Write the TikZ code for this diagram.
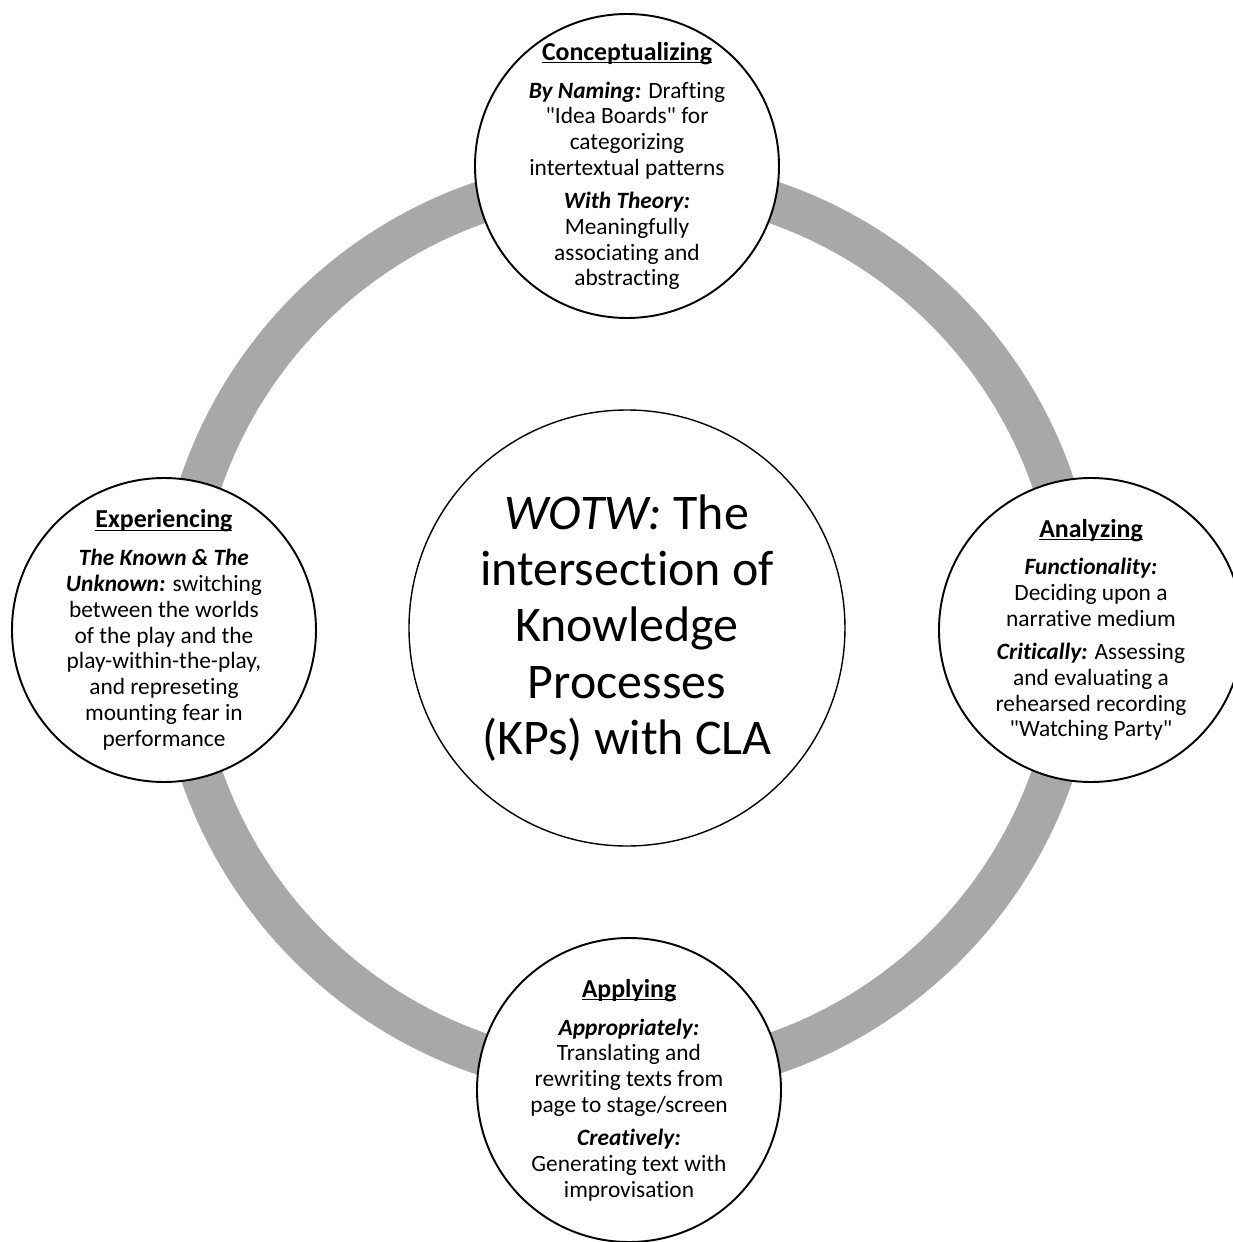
\documentclass[tikz,border=0pt]{standalone}
\usepackage{fontspec}
\setmainfont{Carlito}[Ligatures={TeXOff,NoCommon}]
\usetikzlibrary{positioning}

\definecolor{ringgray}{HTML}{A8A8A8}
% heading of a process circle: bold, underlined through the descenders
\newcommand{\kphead}[1]{\underline{\raisebox{0pt}[\height][0pt]{\fontsize{14.7}{14.7}\selectfont\bfseries #1}}}
\newcommand{\kpkey}[1]{\textbf{\textit{#1}}}

\begin{document}
\begin{tikzpicture}[
	% Ring style
	ring/.style={draw=ringgray,line width=0.84cm},
	% Circles style
	core/.style={circle,draw,line width=0.8pt,fill=white,minimum size=8.72cm,inner sep=0pt},
	process/.style={circle,draw,line width=1.1pt,fill=white,minimum size=6.08cm,inner sep=0pt},
	% Texts style
	coretext/.style={align=center,font=\fontsize{28.4}{32}\selectfont},
	proctext/.style={align=center,font=\fontsize{13.3}{14.7}\selectfont}
	]
	\clip (-12.54,-12.28) rectangle (12.12,12.56);
	%% Draw ring and circles
	\node (hub) [core] at (0,0) {};
	\draw [ring] (hub.center) circle (9cm);
	\node (concept) [process] at (0,9.24) {};
	\node (analyze) [process] at (9.28,-0.04) {};
	\node (apply) [process] at (0.04,-9.24) {};
	\node (experience) [process] at (-9.26,-0.04) {};
	%% Texts
	\node (hubtext) [coretext] at (hub) {\textit{WOTW:} The\\intersection of\\Knowledge\\Processes\\(KPs) with CLA};
	\node (concepttext) [proctext] at (concept) {\kphead{Conceptualizing}\\[6.8pt]
		\kpkey{By Naming:} Drafting\\"Idea Boards" for\\categorizing\\intertextual patterns\\[4pt]
		\kpkey{With Theory:}\\Meaningfully\\associating and\\abstracting};
	\node (analyzetext) [proctext] at (analyze) {\kphead{Analyzing}\\[6.8pt]
		\kpkey{Functionality:}\\Deciding upon a\\narrative medium\\[4pt]
		\kpkey{Critically:} Assessing\\and evaluating a\\rehearsed recording\\"Watching Party"};
	\node (applytext) [proctext] at (apply) {\kphead{Applying}\\[6.8pt]
		\kpkey{Appropriately:}\\Translating and\\rewriting texts from\\page to stage/screen\\[4pt]
		\kpkey{Creatively:}\\Generating text with\\improvisation};
	\node (experiencetext) [proctext] at (experience) {\kphead{Experiencing}\\[6.8pt]
		\kpkey{The Known \& The}\\\kpkey{Unknown:} switching\\between the worlds\\of the play and the\\play-within-the-play,\\and represeting\\mounting fear in\\performance};
\end{tikzpicture}
\end{document}
